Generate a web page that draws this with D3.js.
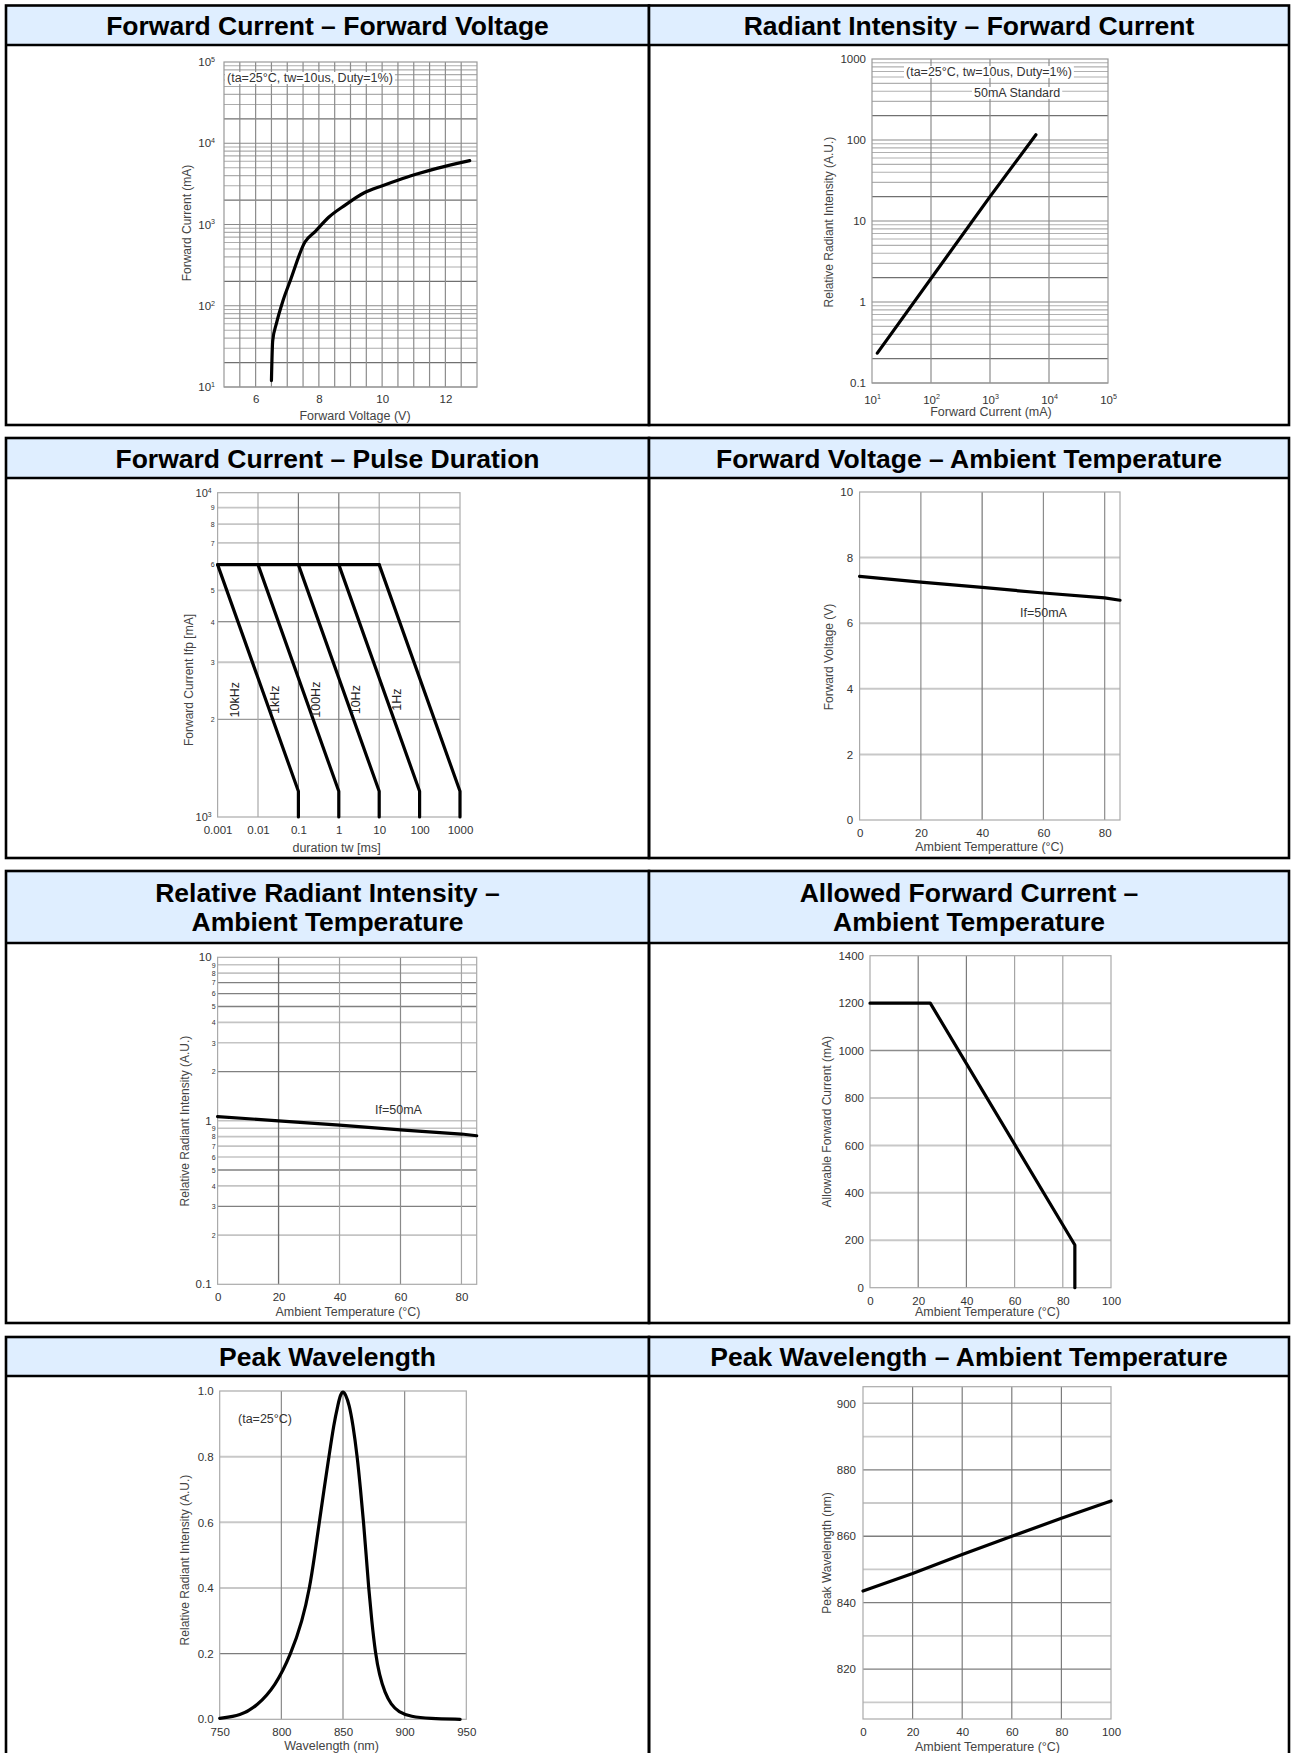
<!DOCTYPE html>
<html><head><meta charset="utf-8">
<script src="https://cdn.jsdelivr.net/npm/d3@7"></script>
<style>body{margin:0;background:#fff}</style>
</head><body>
<script>
// ---------------- DATA ----------------
// 1. Forward Current – Forward Voltage
const fvVoltage = [6.50, 6.54, 6.66, 6.87, 7.10, 7.56, 7.89, 8.32, 8.82, 9.42, 10.01, 10.54, 11.07, 11.73, 12.77];
const fvCurrent = [12, 37, 61, 117, 206, 610, 825, 1236, 1722, 2443, 3008, 3565, 4143, 4909, 6109];
const fvXTicks = [6, 8, 10, 12];
const fvYTicks = [10, 100, 1000, 10000, 100000];
// 2. Radiant Intensity – Forward Current
const riCurrent = [12.3, 1000, 6000];
const riIntensity = [0.234, 20, 116];
const riXTicks = [10, 100, 1000, 10000, 100000];
const riYTicks = [0.1, 1, 10, 100, 1000];
// 3. Forward Current – Pulse Duration
const pulseLabels = ["10kHz", "1kHz", "100Hz", "10Hz", "1Hz"];
const pulseStart = [0.001, 0.01, 0.1, 1, 10];
const pulseEnd = [0.1, 1, 10, 100, 1000];
const pulseTopCurrent = 6000;
const pulseKneeCurrent = 1200;
const pulseBottomCurrent = 1000;
const pulseXTicks = [0.001, 0.01, 0.1, 1, 10, 100, 1000];
const pulseYTicks = [1000, 10000];
const pulseYMinor = [2000, 3000, 4000, 5000, 6000, 7000, 8000, 9000];
// 4. Forward Voltage – Ambient Temperature
const fvtTemp = [0, 20, 40, 60, 80, 85];
const fvtVolt = [7.43, 7.25, 7.09, 6.92, 6.77, 6.70];
const fvtXTicks = [0, 20, 40, 60, 80];
const fvtYTicks = [0, 2, 4, 6, 8, 10];
// 5. Relative Radiant Intensity – Ambient Temperature
const rriTemp = [0, 20, 40, 60, 80, 85];
const rriValue = [1.06, 1.00, 0.94, 0.88, 0.83, 0.81];
const rriXTicks = [0, 20, 40, 60, 80];
const rriYTicks = [0.1, 1, 10];
const rriYMinor = [0.2, 0.3, 0.4, 0.5, 0.6, 0.7, 0.8, 0.9, 2, 3, 4, 5, 6, 7, 8, 9];
// 6. Allowed Forward Current – Ambient Temperature
const afcTemp = [0, 25, 85, 85];
const afcCurrent = [1200, 1200, 180, 0];
const afcXTicks = [0, 20, 40, 60, 80, 100];
const afcYTicks = [0, 200, 400, 600, 800, 1000, 1200, 1400];
// 7. Peak Wavelength (spectrum)
const pwLambda = [750, 767, 780, 795, 808, 817, 823, 827, 830.8, 834.6, 838.6, 842.6, 846, 848, 850, 852, 855, 858, 861.6, 864.2, 866.7, 868.8, 870.8, 873.3, 876.3, 879.5, 884, 889, 895, 905, 920, 945];
const pwIntensity = [0.003, 0.011, 0.04, 0.1, 0.2, 0.3, 0.4, 0.5, 0.6, 0.7, 0.8, 0.9, 0.96, 0.99, 1.0, 0.99, 0.96, 0.9, 0.8, 0.7, 0.6, 0.5, 0.4, 0.3, 0.2, 0.135, 0.08, 0.045, 0.022, 0.008, 0.002, 0.0];
const pwXTicks = [750, 800, 850, 900, 950];
const pwYTicks = [0, 0.2, 0.4, 0.6, 0.8, 1.0];
// 8. Peak Wavelength – Ambient Temperature
const pwtTemp = [0, 20, 40, 60, 80, 100];
const pwtLambda = [843.5, 848.8, 854.5, 860.0, 865.4, 870.6];
const pwtXTicks = [0, 20, 40, 60, 80, 100];
const pwtYTicks = [820, 840, 860, 880, 900];

const panelTitles = [
  [["Forward Current – Forward Voltage"], ["Radiant Intensity – Forward Current"]],
  [["Forward Current – Pulse Duration"], ["Forward Voltage – Ambient Temperature"]],
  [["Relative Radiant Intensity –", "Ambient Temperature"], ["Allowed Forward Current –", "Ambient Temperature"]],
  [["Peak Wavelength"], ["Peak Wavelength – Ambient Temperature"]]
];

// ---------------- LAYOUT ----------------
const FONT = "'Liberation Sans', Arial, Helvetica, sans-serif";
const W = 1292, H = 1753;
const svg = d3.select('body').append('svg').attr('width', W).attr('height', H)
  .attr('font-family', FONT);
svg.append('rect').attr('width', W).attr('height', H).attr('fill', '#fff');

const colX = [[6, 649], [649, 1289]];
const rowY = [[5.5, 45, 425], [438, 478, 858], [871, 943, 1323], [1337, 1376, 1756]];

rowY.forEach((ry, ri) => colX.forEach((cx, ci) => {
  svg.append('rect').attr('x', cx[0]).attr('y', ry[0]).attr('width', cx[1] - cx[0]).attr('height', ry[1] - ry[0]).attr('fill', '#dfeeff');
  svg.append('rect').attr('x', cx[0]).attr('y', ry[0]).attr('width', cx[1] - cx[0]).attr('height', ry[2] - ry[0])
    .attr('fill', 'none').attr('stroke', '#000').attr('stroke-width', 2.6);
  svg.append('line').attr('x1', cx[0]).attr('x2', cx[1]).attr('y1', ry[1]).attr('y2', ry[1]).attr('stroke', '#000').attr('stroke-width', 2.6);
  const lines = panelTitles[ri][ci];
  const cyc = (ry[0] + ry[1]) / 2;
  lines.forEach((t, i) => {
    svg.append('text').attr('x', (cx[0] + cx[1]) / 2).attr('y', cyc + (i - (lines.length - 1) / 2) * 29 + 9.5)
      .attr('text-anchor', 'middle').attr('font-size', 26.5).attr('font-weight', 'bold').attr('fill', '#000').text(t);
  });
}));

// ---------------- HELPERS ----------------
function hGrid(g, y, l, r, vals, st) {
  g.selectAll(null).data(vals).join('line')
    .attr('x1', l).attr('x2', r).attr('y1', d => y(d)).attr('y2', d => y(d))
    .each(function (d) { const s = st(d); d3.select(this).attr('stroke', s[0]).attr('stroke-width', s[1]); });
}
function vGrid(g, x, t, b, vals, st) {
  g.selectAll(null).data(vals).join('line')
    .attr('y1', t).attr('y2', b).attr('x1', d => x(d)).attr('x2', d => x(d))
    .each(function (d) { const s = st(d); d3.select(this).attr('stroke', s[0]).attr('stroke-width', s[1]); });
}
function frame(g, l, r, t, b, c) {
  g.append('rect').attr('x', l).attr('y', t).attr('width', r - l).attr('height', b - t)
    .attr('fill', 'none').attr('stroke', c || '#aaa').attr('stroke-width', 1.2);
}
function axisL(g, y, l, vals, fmt, fs, pad) {
  const a = g.append('g').attr('transform', `translate(${l},0)`)
    .call(d3.axisLeft(y).tickValues(vals).tickFormat(fmt).tickSize(0).tickPadding(pad));
  a.select('.domain').remove();
  a.attr('font-family', FONT).attr('font-size', fs);
  a.selectAll('text').attr('fill', '#333');
  return a;
}
function axisB(g, x, b, vals, fmt, fs, pad) {
  const a = g.append('g').attr('transform', `translate(0,${b})`)
    .call(d3.axisBottom(x).tickValues(vals).tickFormat(fmt).tickSize(0).tickPadding(pad));
  a.select('.domain').remove();
  a.attr('font-family', FONT).attr('font-size', fs);
  a.selectAll('text').attr('fill', '#333');
  return a;
}
function supify(a) {
  a.selectAll('text').each(function (d) {
    const t = d3.select(this);
    const e = Math.round(Math.log10(d));
    t.text(null);
    t.append('tspan').text('10');
    t.append('tspan').attr('dy', '-0.6em').attr('font-size', '0.62em').text(e);
  });
}
function xTitle(g, cx, yb, txt) {
  g.append('text').attr('x', cx).attr('y', yb).attr('text-anchor', 'middle').attr('font-size', 12.5).attr('fill', '#444').text(txt);
}
function yTitle(g, cx, cy, txt) {
  g.append('text').attr('transform', `translate(${cx},${cy}) rotate(-90)`).attr('text-anchor', 'middle')
    .attr('dy', '0.35em').attr('font-size', 12).attr('fill', '#444').text(txt);
}
function note(g, x, yb, txt, bg) {
  const t = g.append('text').attr('x', x).attr('y', yb).attr('font-size', 12.5).attr('fill', '#333').text(txt);
  if (bg) {
    const bb = t.node().getBBox();
    g.insert('rect', () => t.node()).attr('x', bb.x - 2).attr('y', bb.y + 1).attr('width', bb.width + 4).attr('height', bb.height - 2).attr('fill', '#fff');
  }
}
function curve(g, pts, x, y, c) {
  g.append('path').datum(pts).attr('fill', 'none').attr('stroke', '#000').attr('stroke-width', 3.2)
    .attr('stroke-linejoin', 'round').attr('stroke-linecap', 'round')
    .attr('d', d3.line().x(d => x(d[0])).y(d => y(d[1])).curve(c || d3.curveLinear));
}
const logVals = (decs) => decs.flatMap(d => [1, 2, 3, 4, 5, 6, 7, 8, 9].map(m => m * d));
const mant = v => Math.round(v / Math.pow(10, Math.floor(Math.log10(v) + 1e-9)));

// ---------------- PANEL 1 ----------------
{
  const l = 224, r = 477, t = 62, b = 387;
  const g = svg.append('g');
  const x = d3.scaleLinear().domain([5, 13]).range([l, r]);
  const y = d3.scaleLog().domain([10, 100000]).range([b, t]);
  hGrid(g, y, l, r, logVals([10, 100, 1000, 10000]), d => { const m = mant(d); return m === 2 ? ['#707070', 1.2] : (m === 1 ? ['#8a8a8a', 1.2] : ['#adadad', 1.1]); });
  vGrid(g, x, t, b, [5.5, 6, 6.5, 7, 7.5, 8, 8.5, 9, 9.5, 10, 10.5, 11, 11.5, 12, 12.5], () => ['#8c8c8c', 1.2]);
  frame(g, l, r, t, b, '#999');
  note(g, 227, 82, '(ta=25°C, tw=10us, Duty=1%)', true);
  curve(g, d3.zip(fvVoltage, fvCurrent), x, y, d3.curveMonotoneX);
  supify(axisL(g, y, l, fvYTicks, d => d, 11.5, 9));
  axisB(g, x, b, fvXTicks, d => d, 11.5, 7.8);
  xTitle(g, 355, 419.5, 'Forward Voltage (V)');
  yTitle(g, 187, 223, 'Forward Current (mA)');
}
// ---------------- PANEL 2 ----------------
{
  const l = 872, r = 1108, t = 59, b = 383;
  const g = svg.append('g');
  const x = d3.scaleLog().domain([10, 100000]).range([l, r]);
  const y = d3.scaleLog().domain([0.1, 1000]).range([b, t]);
  hGrid(g, y, l, r, logVals([0.1, 1, 10, 100]), d => { const m = mant(d); return m === 2 ? ['#707070', 1.2] : (m === 1 ? ['#8a8a8a', 1.2] : ['#b0b0b0', 1.1]); });
  vGrid(g, x, t, b, [100, 1000, 10000], () => ['#8c8c8c', 1.2]);
  frame(g, l, r, t, b, '#999');
  note(g, 906, 76, '(ta=25°C, tw=10us, Duty=1%)', true);
  note(g, 974, 97, '50mA Standard', true);
  curve(g, d3.zip(riCurrent, riIntensity), x, y);
  axisL(g, y, l, riYTicks, d => String(d), 11.5, 6);
  supify(axisB(g, x, b, riXTicks, d => d, 11.5, 12.5));
  xTitle(g, 991, 416, 'Forward Current (mA)');
  yTitle(g, 829, 222, 'Relative Radiant Intensity (A.U.)');
}
// ---------------- PANEL 3 ----------------
{
  const l = 217.6, r = 460, t = 492.7, b = 817;
  const g = svg.append('g');
  const x = d3.scaleLog().domain([0.001, 1000]).range([l, r]);
  const y = d3.scaleLog().domain([1000, 10000]).range([b, t]);
  hGrid(g, y, l, r, pulseYMinor, d => d === 4000 ? ['#6a6a6a', 1.2] : (d === 2000 ? ['#9a9a9a', 1.2] : ['#c6c6c6', 1.8]));
  vGrid(g, x, t, b, [0.01, 0.1, 1, 10, 100], d => (d === 0.1 || d === 1) ? ['#7a7a7a', 1.2] : ['#a8a8a8', 1.2]);
  frame(g, l, r, t, b, '#aaa');
  curve(g, [[pulseStart[0], pulseTopCurrent], [pulseStart[4], pulseTopCurrent]], x, y);
  pulseLabels.forEach((lab, i) => {
    curve(g, [[pulseStart[i], pulseTopCurrent], [pulseEnd[i], pulseKneeCurrent], [pulseEnd[i], pulseBottomCurrent]], x, y);
    g.append('text').attr('transform', `translate(${x(pulseStart[i]) + 17},${y(2300)}) rotate(-90)`)
      .attr('text-anchor', 'middle').attr('dy', '0.35em').attr('font-size', 12.5).attr('fill', '#222').text(lab);
  });
  supify(axisL(g, y, l, pulseYTicks, d => d, 11, 6));
  axisL(g, y, l, pulseYMinor, d => d / 1000, 7, 3);
  axisB(g, x, b, pulseXTicks, d => String(d), 11.5, 8.8);
  xTitle(g, 336.6, 852, 'duration tw [ms]');
  yTitle(g, 189, 680, 'Forward Current Ifp [mA]');
}
// ---------------- PANEL 4 ----------------
{
  const l = 859.6, r = 1120, t = 492, b = 820;
  const g = svg.append('g');
  const x = d3.scaleLinear().domain([0, 85]).range([l, r]);
  const y = d3.scaleLinear().domain([0, 10]).range([b, t]);
  hGrid(g, y, l, r, [2, 4, 6, 8], () => ['#c8c8c8', 2]);
  vGrid(g, x, t, b, [20, 40, 60, 80], d => d === 40 ? ['#777', 1.2] : ['#8c8c8c', 1.2]);
  frame(g, l, r, t, b, '#aaa');
  note(g, 1020, 617, 'If=50mA', false);
  curve(g, d3.zip(fvtTemp, fvtVolt), x, y);
  axisL(g, y, l, fvtYTicks, d => d, 11.5, 6.5);
  axisB(g, x, b, fvtXTicks, d => d, 11.5, 8.8);
  xTitle(g, 989.5, 851, 'Ambient Temperatture (°C)');
  yTitle(g, 828.6, 657, 'Forward Voltage (V)');
}
// ---------------- PANEL 5 ----------------
{
  const l = 217.6, r = 476.7, t = 957.3, b = 1284.3;
  const g = svg.append('g');
  const x = d3.scaleLinear().domain([0, 85]).range([l, r]);
  const y = d3.scaleLog().domain([0.1, 10]).range([b, t]);
  const darkSet = [7, 6, 5, 2, 0.5, 0.3];
  hGrid(g, y, l, r, rriYMinor.concat([1]), d => darkSet.some(v => Math.abs(v - d) < 1e-6) ? ['#808080', 1.3] : ['#c4c4c4', 1.6]);
  vGrid(g, x, t, b, [20, 40, 60, 80], d => d === 20 ? ['#6f6f6f', 1.3] : (d === 60 ? ['#8a8a8a', 1.2] : ['#a5a5a5', 1.2]));
  frame(g, l, r, t, b, '#aaa');
  note(g, 375, 1114, 'If=50mA', false);
  curve(g, d3.zip(rriTemp, rriValue), x, y);
  axisL(g, y, l, rriYTicks, d => String(d), 11.5, 6);
  axisL(g, y, l, rriYMinor, d => mant(d), 7, 2);
  axisB(g, x, b, rriXTicks, d => d, 11.5, 8.8);
  xTitle(g, 348, 1315.8, 'Ambient Temperature (°C)');
  yTitle(g, 184.5, 1121, 'Relative Radiant Intensity (A.U.)');
}
// ---------------- PANEL 6 ----------------
{
  const l = 870, r = 1111, t = 955.7, b = 1287.7;
  const g = svg.append('g');
  const x = d3.scaleLinear().domain([0, 100]).range([l, r]);
  const y = d3.scaleLinear().domain([0, 1400]).range([b, t]);
  hGrid(g, y, l, r, [200, 400, 600, 800, 1000, 1200], d => d === 1000 ? ['#8c8c8c', 1.4] : ['#c8c8c8', 2]);
  vGrid(g, x, t, b, [20, 40, 60, 80], d => d <= 40 ? ['#7c7c7c', 1.2] : ['#a5a5a5', 1.2]);
  frame(g, l, r, t, b, '#aaa');
  curve(g, d3.zip(afcTemp, afcCurrent), x, y);
  axisL(g, y, l, afcYTicks, d => d, 11.5, 6);
  axisB(g, x, b, afcXTicks, d => d, 11.5, 8.8);
  xTitle(g, 987.5, 1316, 'Ambient Temperature (°C)');
  yTitle(g, 826.5, 1121.7, 'Allowable Forward Current (mA)');
}
// ---------------- PANEL 7 ----------------
{
  const l = 219.7, r = 466.3, t = 1391, b = 1719.3;
  const g = svg.append('g');
  const x = d3.scaleLinear().domain([750, 950]).range([l, r]);
  const y = d3.scaleLinear().domain([0, 1]).range([b, t]);
  hGrid(g, y, l, r, [0.2, 0.4, 0.6, 0.8], d => d === 0.2 ? ['#7c7c7c', 1.2] : ['#c8c8c8', 2]);
  vGrid(g, x, t, b, [800, 850, 900], () => ['#8a8a8a', 1.2]);
  frame(g, l, r, t, b, '#aaa');
  note(g, 238, 1423, '(ta=25°C)', false);
  curve(g, d3.zip(pwLambda, pwIntensity), x, y, d3.curveBasis);
  axisL(g, y, l, pwYTicks, d3.format('.1f'), 11.5, 6);
  axisB(g, x, b, pwXTicks, d => d, 11.5, 8.8);
  xTitle(g, 331.6, 1750, 'Wavelength (nm)');
  yTitle(g, 185, 1560, 'Relative Radiant Intensity (A.U.)');
}
// ---------------- PANEL 8 ----------------
{
  const l = 863, r = 1111, t = 1386.7, b = 1719;
  const g = svg.append('g');
  const x = d3.scaleLinear().domain([0, 100]).range([l, r]);
  const y = d3.scaleLinear().domain([805, 905]).range([b, t]);
  hGrid(g, y, l, r, [810, 820, 830, 840, 850, 860, 870, 880, 890, 900], d => (d % 20 === 0) ? (d === 900 ? ['#b0b0b0', 1.6] : ['#7e7e7e', 1.3]) : ['#cacaca', 1.8]);
  vGrid(g, x, t, b, [20, 40, 60, 80], () => ['#7c7c7c', 1.2]);
  frame(g, l, r, t, b, '#aaa');
  curve(g, d3.zip(pwtTemp, pwtLambda), x, y);
  axisL(g, y, l, pwtYTicks, d => d, 11.5, 7);
  axisB(g, x, b, pwtXTicks, d => d, 11.5, 8.8);
  xTitle(g, 987.5, 1750.5, 'Ambient Temperature (°C)');
  yTitle(g, 826.5, 1553, 'Peak Wavelength (nm)');
}
</script>
</body></html>
